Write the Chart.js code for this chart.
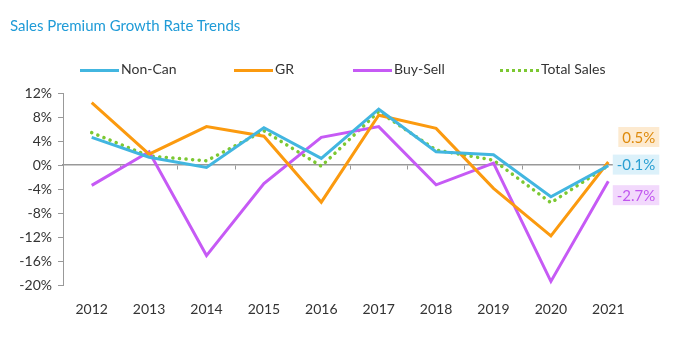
<!DOCTYPE html>
<html>
<head>
<meta charset="utf-8">
<script src="https://cdn.jsdelivr.net/npm/chart.js@4"></script>
<style>
  body { margin: 0; background: #fff; font-family: Lato, "Open Sans", sans-serif; }
  #wrap { position: relative; width: 674px; height: 340px; }
  #title { position: absolute; left: 10px; top: 16px; font-size: 15px; color: #1f9bd7; }
  .leg { position: absolute; top: 60px; font-size: 14px; color: #333; line-height: 18px; }
  .leg i { display: inline-block; width: 39px; height: 0; vertical-align: middle; margin-right: 2px; }
</style>
</head>
<body>
<div id="wrap">
  <div id="title">Sales Premium Growth Rate Trends</div>
  <div class="leg" style="left:80px"><i style="border-top:3px solid #42b6e0"></i>Non-Can</div>
  <div class="leg" style="left:234px"><i style="border-top:3px solid #fb9a0f"></i>GR</div>
  <div class="leg" style="left:353px"><i style="border-top:3px solid #c65af5"></i>Buy-Sell</div>
  <div class="leg" style="left:500px"><i style="border-top:3px dotted #7cc832"></i>Total Sales</div>
  <canvas id="chart" width="674" height="340"></canvas>
</div>
<script>
const years = ['2012', '2013', '2014', '2015', '2016', '2017', '2018', '2019', '2020', '2021'];
const nonCan = [4.6, 1.3, -0.4, 6.2, 1.1, 9.3, 2.2, 1.7, -5.3, -0.1];
const gr = [10.4, 1.8, 6.4, 4.8, -6.2, 8.3, 6.1, -3.9, -11.8, 0.5];
const buySell = [-3.4, 2.2, -15.1, -3.1, 4.6, 6.4, -3.3, 0.3, -19.4, -2.7];
const totalSales = [5.4, 1.5, 0.7, 5.7, -0.2, 8.9, 2.5, 0.8, -6.3, -0.1];

// end labels: text colour, box fill, vertical shift from the last point
const endLabels = [
    { ds: 0, color: '#2a9fd2', fill: '#dcf1fa', dy: -1 },
    { ds: 1, color: '#de8a0c', fill: '#fdead0', dy: -25 },
    { ds: 2, color: '#c157ef', fill: '#f2d9fc', dy: 14 }
];

const endLabelPlugin = {
    id: 'endLabels',
    afterDatasetsDraw(chart) {
        const ctx = chart.ctx;
        ctx.save();
        ctx.font = '15px Lato, "Open Sans", sans-serif';
        ctx.textBaseline = 'middle';
        endLabels.forEach(function(l) {
            const meta = chart.getDatasetMeta(l.ds);
            const pt = meta.data[meta.data.length - 1];
            const v = chart.data.datasets[l.ds].data[meta.data.length - 1];
            const txt = v.toFixed(1) + '%';
            const w = ctx.measureText(txt).width + 8;
            const right = pt.x + 51;
            const y = pt.y + l.dy;
            ctx.fillStyle = l.fill;
            ctx.fillRect(right - w, y - 10, w, 20);
            ctx.fillStyle = l.color;
            ctx.fillText(txt, right - w + 4, y + 1);
        });
        ctx.restore();
    }
};

const tickFont = { family: 'Lato, "Open Sans", sans-serif', size: 14 };

new Chart(document.getElementById('chart'), {
    type: 'line',
    data: {
        labels: years,
        datasets: [{
            label: 'Non-Can',
            data: nonCan,
            borderColor: '#42b6e0',
            borderWidth: 3
        }, {
            label: 'GR',
            data: gr,
            borderColor: '#fb9a0f',
            borderWidth: 3
        }, {
            label: 'Buy-Sell',
            data: buySell,
            borderColor: '#c65af5',
            borderWidth: 3
        }, {
            label: 'Total Sales',
            data: totalSales,
            borderColor: '#7cc832',
            borderWidth: 3.5,
            borderDash: [0.1, 6.5],
            borderCapStyle: 'round'
        }]
    },
    options: {
        responsive: false,
        animation: false,
        elements: { point: { radius: 0 }, line: { tension: 0 } },
        layout: { padding: { left: 0, right: 37, top: 93, bottom: 0 } },
        plugins: { legend: { display: false }, tooltip: { enabled: false } },
        scales: {
            x: {
                offset: true,
                grid: { display: false },
                border: { display: false },
                ticks: { color: '#333', font: tickFont, padding: 8 },
                afterFit: function(s) { s.height = 55; }
            },
            x0: {
                type: 'category',
                position: { y: 0 },
                offset: true,
                grid: { offset: true, drawOnChartArea: false, tickLength: 4, color: '#999' },
                border: { color: '#999', width: 1.5 },
                ticks: { display: false }
            },
            y: {
                min: -20,
                max: 12,
                ticks: {
                    stepSize: 4,
                    color: '#333',
                    font: tickFont,
                    padding: 6,
                    callback: function(v) { return v + '%'; }
                },
                grid: { drawOnChartArea: false, tickLength: 5, color: '#999' },
                border: { color: '#999' },
                afterFit: function(s) { s.width = 63; }
            }
        }
    },
    plugins: [endLabelPlugin]
});
</script>
</body>
</html>
